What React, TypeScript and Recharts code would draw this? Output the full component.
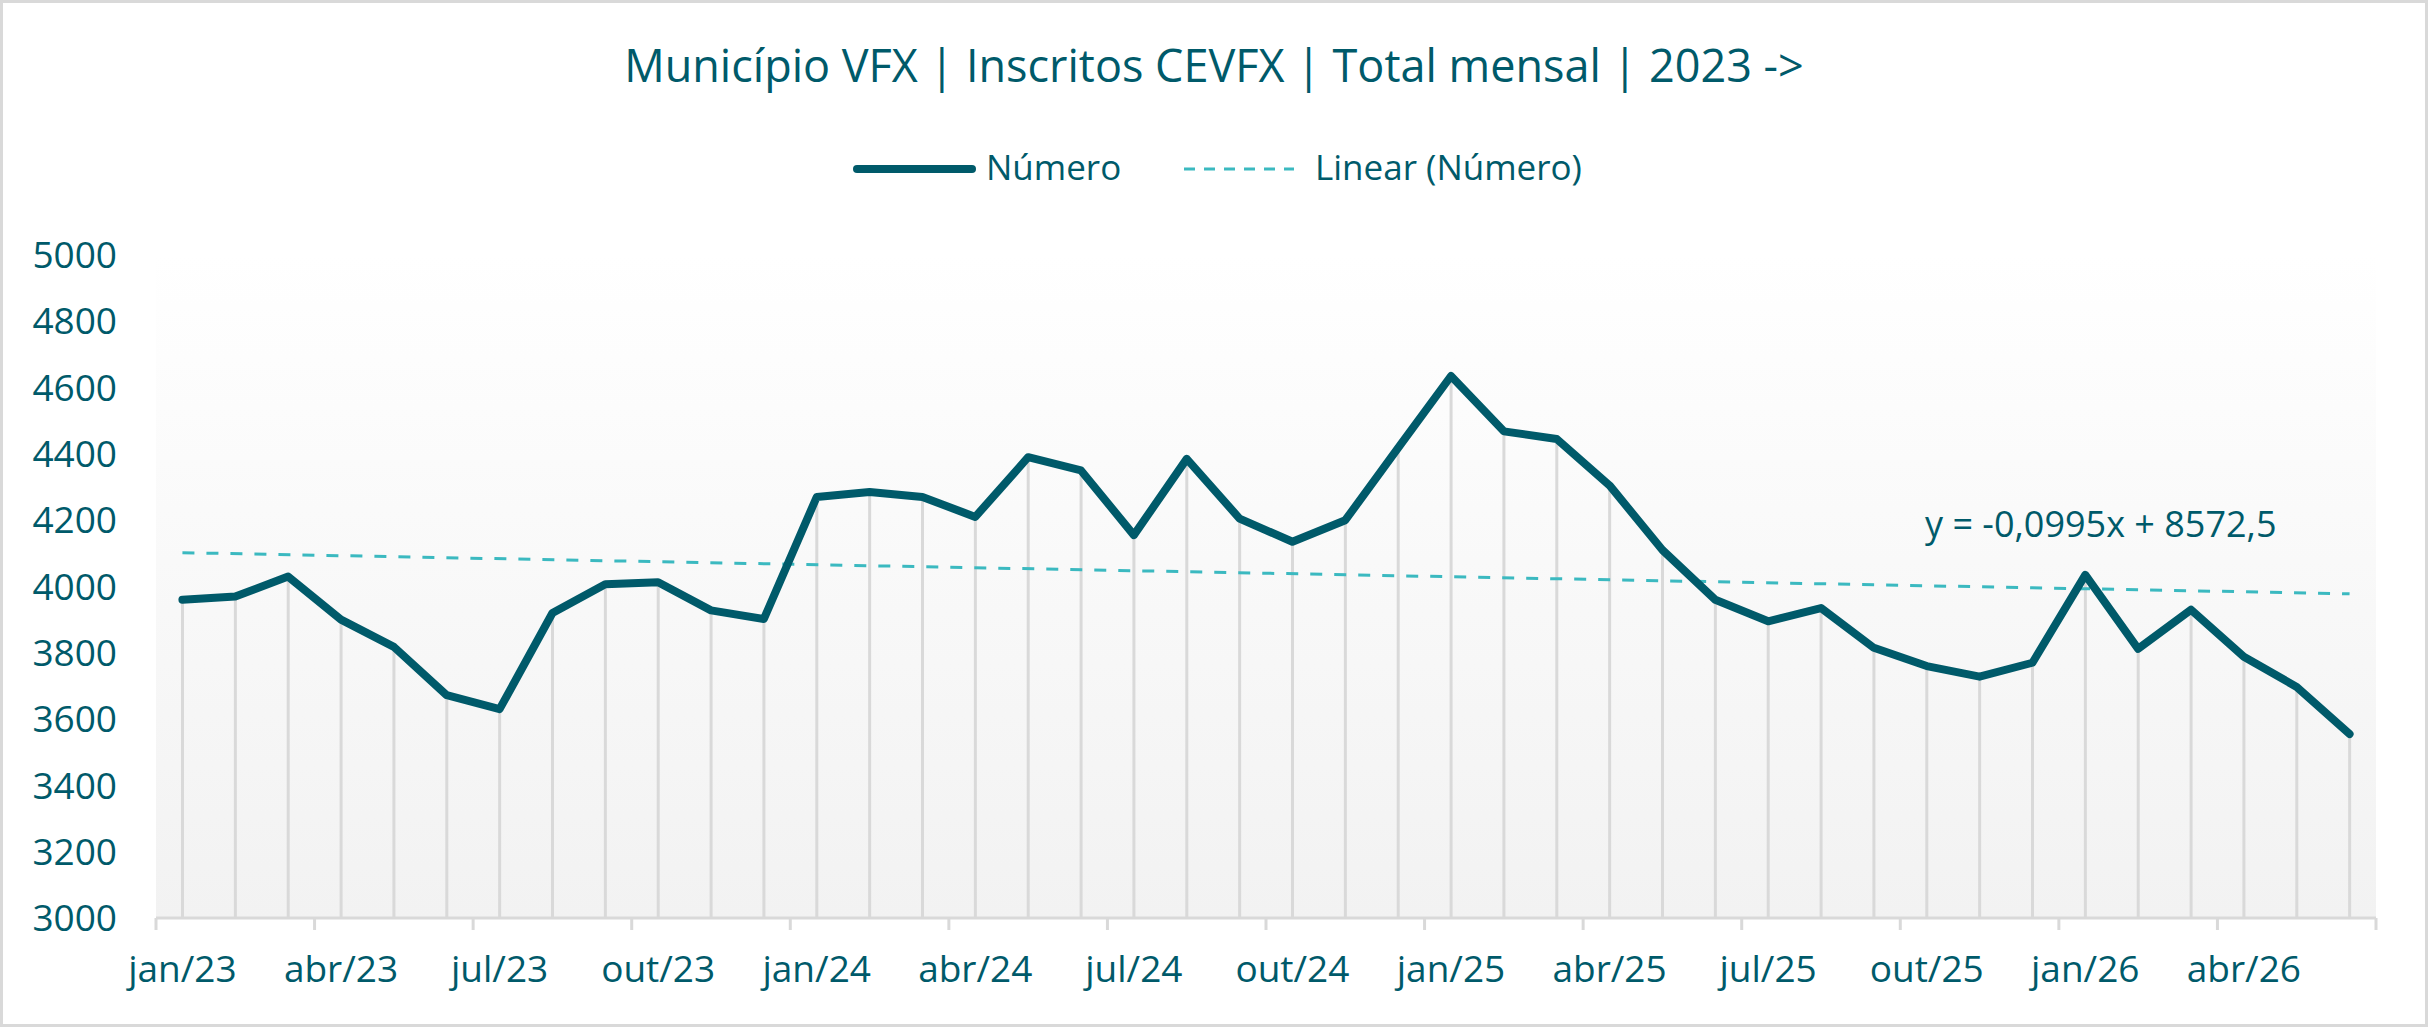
import React from 'react';
import { ComposedChart, Line, Bar, XAxis, YAxis, CartesianGrid } from 'recharts';

const months: string[] = [
  'jan/23', 'fev/23', 'mar/23', 'abr/23', 'mai/23', 'jun/23', 'jul/23', 'ago/23', 'set/23', 'out/23', 'nov/23', 'dez/23',
  'jan/24', 'fev/24', 'mar/24', 'abr/24', 'mai/24', 'jun/24', 'jul/24', 'ago/24', 'set/24', 'out/24', 'nov/24', 'dez/24',
  'jan/25', 'fev/25', 'mar/25', 'abr/25', 'mai/25', 'jun/25', 'jul/25', 'ago/25', 'set/25', 'out/25', 'nov/25', 'dez/25',
  'jan/26', 'fev/26', 'mar/26', 'abr/26', 'mai/26', 'jun/26',
];

const numero: number[] = [
  3960, 3970, 4030, 3900, 3818, 3672, 3630, 3920, 4007, 4013, 3928, 3902,
  4270, 4285, 4270, 4210, 4390, 4350, 4155, 4385, 4205, 4135, 4200, 4418,
  4635, 4468, 4445, 4305, 4110, 3960, 3895, 3935, 3815, 3760, 3728, 3770,
  4035, 3812, 3930, 3788, 3697, 3555,
];

// Linear trend line (Excel): values read at the first and last month
const trendStart = 4102;
const trendEnd = 3978;

const yTicks: number[] = [3000, 3200, 3400, 3600, 3800, 4000, 4200, 4400, 4600, 4800, 5000];

const TITLE = 'Município VFX | Inscritos CEVFX | Total mensal | 2023 ->';
const TREND_LABEL = 'y = -0,0995x + 8572,5';

const data = months.map((m, i) => ({
  month: m,
  value: numero[i],
  trend: i === 0 ? trendStart : i === months.length - 1 ? trendEnd : null,
}));

const TEXT = '#005A6A';
const LINE = '#005A6A';
const TREND = '#3BB9C0';
const GRAY = '#D9D9D9';
const FONT = '"Open Sans", sans-serif';

const X_TICK_MARGIN = 38;

const XTick = (props: any) => {
  const { x, y, payload } = props;
  const off = payload && typeof payload.offset === 'number' ? payload.offset : 26.4;
  const axisY = y - X_TICK_MARGIN;
  const isLast = payload.index + 3 >= months.length;
  return (
    <g>
      <line x1={x - off} x2={x - off} y1={axisY} y2={axisY + 12} stroke={GRAY} strokeWidth={3} />
      {isLast && (
        <line x1={x - off + 6 * off} x2={x - off + 6 * off} y1={axisY} y2={axisY + 12} stroke={GRAY} strokeWidth={3} />
      )}
      <text x={x} y={y} dy="0.71em" textAnchor="middle" fill={TEXT} fontSize={37} fontFamily={FONT}>
        {payload.value}
      </text>
    </g>
  );
};

export default function App() {
  return (
    <div style={{ position: 'absolute', left: 0, top: 0, width: 2428, height: 1027, background: '#fff' }}>
      <div style={{ position: 'absolute', left: 3, top: 3 }}>
        <ComposedChart
          width={2422}
          height={1021}
          data={data}
          margin={{ top: 252, right: 49, bottom: 0, left: 0 }}
        >
          <defs>
            <linearGradient id="plotBg" x1="0" y1="0" x2="0" y2="1">
              <stop offset="0%" stopColor="#FFFFFF" />
              <stop offset="100%" stopColor="#F2F2F2" />
            </linearGradient>
          </defs>
          <CartesianGrid horizontal={false} vertical={false} fill="url(#plotBg)" />
          <XAxis
            dataKey="month"
            interval={2}
            height={106}
            tickSize={0}
            tickMargin={X_TICK_MARGIN}
            tickLine={false}
            axisLine={{ stroke: GRAY, strokeWidth: 3 }}
            tick={<XTick />}
          />
          <YAxis
            domain={[3000, 5000]}
            ticks={yTicks}
            width={153}
            tickSize={0}
            tickMargin={39}
            axisLine={false}
            tickLine={false}
            tick={{ fill: TEXT, fontSize: 37, fontFamily: FONT }}
          />
          <Bar dataKey="value" fill={GRAY} barSize={3} isAnimationActive={false} />
          <Line
            dataKey="trend"
            stroke={TREND}
            strokeWidth={3}
            strokeDasharray="12 12"
            dot={false}
            activeDot={false}
            connectNulls
            isAnimationActive={false}
          />
          <Line
            dataKey="value"
            stroke={LINE}
            strokeWidth={8}
            strokeLinejoin="round"
            strokeLinecap="round"
            dot={false}
            activeDot={false}
            isAnimationActive={false}
          />
        </ComposedChart>
      </div>
      <svg
        width={2428}
        height={1027}
        style={{ position: 'absolute', left: 0, top: 0, pointerEvents: 'none' }}
      >
        <rect x={1.5} y={1.5} width={2425} height={1024} fill="none" stroke={GRAY} strokeWidth={3} />
        <text x={1214} y={82} textAnchor="middle" fill={TEXT} fontSize={45} fontFamily={FONT}>
          {TITLE}
        </text>
        <line x1={857} x2={972} y1={169} y2={169} stroke={LINE} strokeWidth={8} strokeLinecap="round" />
        <text x={986} y={180} fill={TEXT} fontSize={35} fontFamily={FONT}>Número</text>
        <line x1={1184} x2={1294} y1={169} y2={169} stroke={TREND} strokeWidth={3} strokeDasharray="11 9" />
        <text x={1315} y={180} fill={TEXT} fontSize={35} fontFamily={FONT}>Linear (Número)</text>
        <text x={1925} y={537} fill={TEXT} fontSize={36} fontFamily={FONT}>{TREND_LABEL}</text>
      </svg>
    </div>
  );
}
